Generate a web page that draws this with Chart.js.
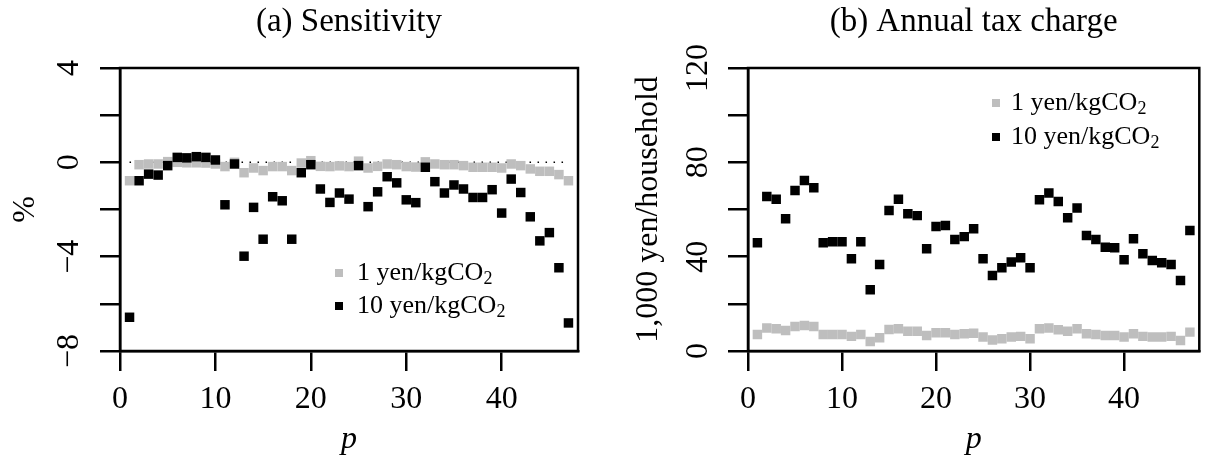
<!DOCTYPE html>
<html>
<head>
<meta charset="utf-8">
<script src="https://cdn.jsdelivr.net/npm/chart.js@4.4.1/dist/chart.umd.min.js"></script>
<style>
  html, body { margin: 0; padding: 0; background: #fff; }
  #wrap { position: relative; width: 1206px; height: 459px; overflow: hidden; }
  .panel { position: absolute; top: 0; width: 603px; height: 459px; }
  #panel-a { left: 0; }
  #panel-b { left: 603px; }
</style>
</head>
<body>
<div id="wrap">
  <div class="panel" id="panel-a"><canvas id="chart-a" width="603" height="459"></canvas></div>
  <div class="panel" id="panel-b"><canvas id="chart-b" width="603" height="459"></canvas></div>
</div>
<script>
// prefecture index
const p = [1, 2, 3, 4, 5, 6, 7, 8, 9, 10, 11, 12, 13, 14, 15, 16, 17, 18, 19, 20,
  21, 22, 23, 24, 25, 26, 27, 28, 29, 30, 31, 32, 33, 34, 35, 36, 37, 38, 39, 40,
  41, 42, 43, 44, 45, 46, 47];

const seriesNames = ['1 yen/kgCO₂', '10 yen/kgCO₂'];

// (a) sensitivity, %
const sens1 = [-0.78, -0.10, -0.07, -0.07, 0.03, 0.00, -0.02, -0.02, -0.03, -0.07,
  -0.18, 0.00, -0.44, -0.24, -0.35, -0.18, -0.18, -0.35, -0.03, 0.07,
  -0.17, -0.18, -0.15, -0.18, 0.05, -0.24, -0.17, -0.07, -0.10, -0.18,
  -0.20, 0.02, -0.07, -0.10, -0.10, -0.14, -0.21, -0.21, -0.21, -0.24,
  -0.07, -0.14, -0.28, -0.38, -0.38, -0.52, -0.78];
const sens10 = [-6.57, -0.78, -0.50, -0.54, -0.14, 0.21, 0.19, 0.24, 0.21, 0.10,
  -1.80, -0.07, -3.98, -1.91, -3.26, -1.46, -1.63, -3.26, -0.44, -0.10,
  -1.13, -1.70, -1.30, -1.56, -0.14, -1.88, -1.25, -0.61, -0.87, -1.59,
  -1.71, -0.21, -0.82, -1.30, -0.96, -1.13, -1.49, -1.49, -1.16, -2.15,
  -0.71, -1.28, -2.31, -3.33, -2.98, -4.47, -6.81];

// dotted reference line at zero
const zeroX = [1, 47];
const zeroY = [0, 0];

// (b) annual tax charge, 1,000 yen/household
const tax1 = [7.0, 9.8, 9.4, 8.7, 10.4, 10.8, 10.4, 7.0, 7.0, 7.0,
  6.2, 7.0, 4.0, 5.6, 9.1, 9.4, 8.4, 8.4, 6.6, 7.7,
  7.7, 7.0, 7.3, 7.5, 5.9, 4.7, 5.2, 5.9, 6.2, 5.2,
  9.4, 9.8, 9.0, 8.4, 9.4, 7.3, 7.0, 6.6, 6.6, 5.9,
  7.3, 6.2, 5.9, 5.9, 6.2, 4.5, 8.0];
const tax10 = [45.9, 65.5, 64.3, 56.1, 68.1, 72.3, 69.2, 45.9, 46.3, 46.3,
  39.1, 46.3, 26.0, 36.7, 59.6, 64.3, 58.2, 57.4, 43.4, 52.8,
  53.2, 47.3, 48.5, 51.8, 39.1, 32.0, 35.3, 37.7, 39.5, 35.3,
  64.1, 67.0, 63.4, 56.5, 60.6, 49.0, 47.3, 44.0, 43.8, 38.7,
  47.6, 41.2, 38.4, 37.4, 36.7, 29.9, 51.1];

const xTicks = [0, 10, 20, 30, 40];
const sensTicks = [4, 0, -4, -8];
const taxTicks = [0, 40, 80, 120];

const SERIF = '"Liberation Serif", "Times New Roman", serif';
const GREY = '#bebebe';
Chart.defaults.font.family = SERIF;
Chart.defaults.color = '#000';

const pts = (xs, ys) => xs.map((x, i) => ({ x, y: ys[i] }));
const fmt = v => (v < 0 ? '\u2212' + Math.abs(v) : String(v));

// full frame round the plot region
const boxPlugin = {
  id: 'box',
  beforeDatasetsDraw(chart) {
    const { ctx, chartArea: a } = chart;
    ctx.save();
    ctx.strokeStyle = '#000';
    ctx.lineWidth = 2.5;
    ctx.strokeRect(a.left, a.top, a.right - a.left, a.bottom - a.top);
    ctx.restore();
  }
};

// R-style legend with subscript 2
const legendPlugin = {
  id: 'rLegend',
  afterDatasetsDraw(chart, args, opts) {
    const ctx = chart.ctx;
    ctx.save();
    ctx.textBaseline = 'middle';
    ctx.textAlign = 'left';
    opts.colors.forEach((c, i) => {
      const y = opts.y + i * opts.gap;
      ctx.fillStyle = c;
      ctx.fillRect(opts.x - 4, y - 4, 8, 8);
      const [main, rest] = seriesNames[i].split('₂');
      ctx.fillStyle = '#000';
      ctx.font = '26px ' + SERIF;
      const tx = opts.x + opts.textGap;
      ctx.fillText(main, tx, y);
      const w = ctx.measureText(main).width;
      ctx.font = '18px ' + SERIF;
      ctx.fillText('2' + (rest || ''), tx + w, y + 6);
    });
    ctx.restore();
  }
};

function makePanel(id, o) {
  const datasets = [];
  if (o.zero) {
    datasets.push({
      type: 'line', data: pts(zeroX, zeroY), borderColor: '#000', borderWidth: 1.5,
      borderDash: [1.5, 6.5], pointRadius: 0, order: 3
    });
  }
  datasets.push({
    label: seriesNames[0], data: pts(p, o.s1), backgroundColor: GREY,
    pointStyle: 'rect', pointRadius: 6.7, pointBorderWidth: 0, order: 2
  });
  datasets.push({
    label: seriesNames[1], data: pts(p, o.s10), backgroundColor: '#000',
    pointStyle: 'rect', pointRadius: 6.7, pointBorderWidth: 0, order: 1
  });

  return new Chart(document.getElementById(id), {
    type: 'scatter',
    data: { datasets },
    options: {
      responsive: false,
      animation: false,
      layout: { padding: { left: 0, right: o.rightPad, top: 0, bottom: 0 } },
      plugins: {
        legend: { display: false },
        tooltip: { enabled: false },
        rLegend: o.legend
      },
      scales: {
        x: {
          type: 'linear', position: 'bottom', min: 0, max: 48,
          afterBuildTicks: s => { s.ticks = xTicks.map(v => ({ value: v })); },
          afterFit: s => { s.height = 108; },
          ticks: { font: { size: 32 }, color: '#000', padding: 9, maxRotation: 0, autoSkip: false },
          grid: { display: true, drawOnChartArea: false, drawTicks: true, tickLength: 20, color: '#000', lineWidth: 2.5 },
          border: { display: true, color: '#000', width: 2.5 },
          title: { display: true, text: 'p', color: '#000', font: { size: 32, style: 'italic' }, padding: { top: 0, bottom: 0 } }
        },
        y: {
          type: 'linear', position: 'left', min: o.yMin, max: o.yMax,
          afterFit: s => { s.width = o.yWidth; },
          ticks: {
            stepSize: o.yStep, autoSkip: false, minRotation: 90, maxRotation: 90,
            crossAlign: 'center', padding: o.yTickPad, font: { size: 32 }, color: '#000',
            callback: v => (o.yLabels.includes(v) ? fmt(v) : '')
          },
          grid: { display: true, drawOnChartArea: false, drawTicks: true, tickLength: 20, color: '#000', lineWidth: 2.5 },
          border: { display: true, color: '#000', width: 2.5 },
          title: { display: true, text: o.yTitle, color: '#000', font: { size: 32 }, padding: { top: o.yTitlePad, bottom: 0 } }
        },
        xTop: {
          type: 'linear', axis: 'x', position: 'top', display: true, min: 0, max: 48,
          afterFit: s => { s.height = 68; },
          ticks: { display: false },
          grid: { display: false },
          border: { display: false },
          title: { display: true, text: o.title, color: '#000', font: { size: 33 }, padding: { top: 3, bottom: 0 } }
        }
      }
    },
    plugins: [boxPlugin, legendPlugin]
  });
}

makePanel('chart-a', {
  title: '(a) Sensitivity', yTitle: '%', s1: sens1, s10: sens10, zero: true,
  yMin: -8, yMax: 4, yStep: 2, yLabels: sensTicks, yWidth: 120, yTickPad: 13, yTitlePad: 6,
  rightPad: 25,
  legend: { x: 339, y: 273, gap: 33, textGap: 18, colors: [GREY, '#000'] }
});

makePanel('chart-b', {
  title: '(b) Annual tax charge', yTitle: '1,000 yen/household', s1: tax1, s10: tax10, zero: false,
  yMin: 0, yMax: 120, yStep: 20, yLabels: taxTicks, yWidth: 145, yTickPad: 5.5, yTitlePad: 26,
  rightPad: 1,
  legend: { x: 996 - 603, y: 103, gap: 34, textGap: 15, colors: [GREY, '#000'] }
});
</script>
</body>
</html>
